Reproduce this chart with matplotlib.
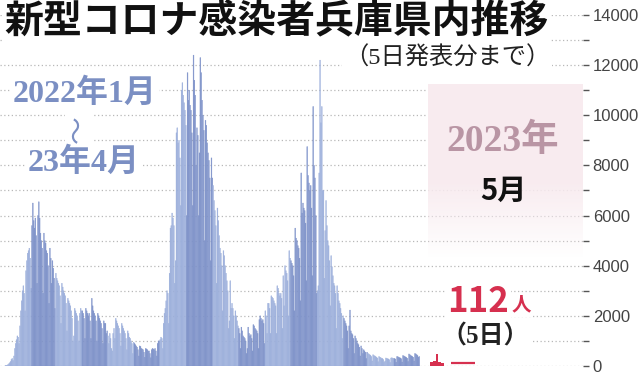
import matplotlib
matplotlib.use('Agg')
import matplotlib.pyplot as plt
import numpy as np
from matplotlib.ticker import MultipleLocator

plt.rcParams['font.family'] = ['Noto Sans CJK JP', 'DejaVu Sans']

# Daily new cases in Hyogo (Jan 2022 - Apr 2023)
jan22 = [20, 25, 30, 60, 90, 130, 180, 260, 300, 220, 400, 700, 900, 1050, 1200, 1150,
         900, 1600, 2200, 2600, 3000, 3200, 2900, 2200, 3800, 4200, 4500, 4600, 4700, 4300, 3100]
feb22 = [5600, 6500, 5800, 5500, 5900, 5200, 3300, 6000, 6550, 5900, 5300, 5000, 4700, 2900,
         5300, 5000, 4900, 4600, 4500, 4000, 2500, 4700, 4300, 3300, 4200, 3900, 3500, 2300]
mar22 = [3700, 3500, 3400, 3300, 3200, 2800, 1700, 3300, 3150, 3000, 2900, 2800, 2500, 1400,
         2700, 2600, 2500, 2400, 2200, 1900, 1000, 1200, 2300, 2200, 2100, 2000, 1800, 1000,
         2100, 2300, 2200]
apr22 = [2200, 2100, 1900, 1100, 2300, 2200, 2100, 2000, 2100, 1800, 1100, 2700, 2400, 2200,
         2100, 2000, 1800, 1000, 2100, 2000, 1900, 1800, 1700, 1500, 900, 1800, 1700, 1700,
         1300, 1400]
may22 = [1200, 900, 1300, 1100, 700, 600, 1300, 1500, 1100, 1900, 1800, 1700, 1600, 1500,
         1300, 800, 1700, 1600, 1500, 1400, 1300, 1100, 650, 1400, 1300, 1150, 1100, 1000,
         900, 500, 950]
jun22 = [900, 850, 800, 750, 650, 400, 800, 780, 700, 680, 650, 550, 350, 700, 680, 650,
         600, 600, 500, 330, 650, 700, 680, 650, 700, 600, 400, 900, 1000, 1000]
jul22 = [1050, 1150, 1100, 700, 1700, 2100, 2300, 2600, 3000, 2900, 1700, 3700, 5500, 5600,
         6100, 5900, 5600, 3300, 4200, 9300, 9500, 8900, 9000, 8300, 6400, 11000, 11300,
         10800, 10500, 10200, 9600]
aug22 = [6000, 11700, 10600, 11000, 10400, 10200, 9300, 6400, 12400, 11400, 10800, 8000,
         9500, 9200, 6000, 8500, 12300, 11700, 10600, 10000, 9400, 5000, 9800, 9600, 8900,
         8500, 8200, 7500, 4200, 8300, 7500]
sep22 = [7200, 6600, 6200, 5600, 3300, 6300, 5800, 5200, 4700, 4500, 4000, 2200, 4600, 4400,
         4000, 3700, 3400, 3000, 1500, 1800, 3400, 2300, 2500, 2300, 2000, 1100, 2200, 2000,
         1800, 1600]
oct22 = [1500, 1300, 700, 1550, 1400, 1200, 1150, 1100, 1000, 500, 700, 1550, 1300, 1200,
         1250, 1100, 600, 1650, 1600, 1500, 1450, 1400, 1300, 700, 1850, 2000, 1900, 1800,
         1850, 1700, 900]
nov22 = [2200, 2000, 1300, 2500, 2500, 2300, 1300, 2800, 2750, 2700, 2600, 2500, 2400, 1300,
         3200, 3100, 2900, 2800, 2900, 2700, 1500, 3600, 2400, 4000, 3800, 3700, 3400, 2000,
         4600, 4300]
dec22 = [4200, 4100, 4000, 3600, 2200, 5500, 5100, 5000, 4800, 4700, 4300, 2600, 7700, 6100,
         6500, 6300, 6200, 5700, 3400, 8750, 7600, 7300, 7000, 7200, 6300, 3600, 10350, 8000,
         7500, 6000, 2900]
jan23 = [3000, 3200, 7700, 12200, 9700, 10350, 7000, 7000, 3500, 5400, 6600, 5600, 5000,
         4800, 4200, 2400, 4400, 3960, 3600, 3300, 3200, 2900, 1500, 3200, 2900, 2600, 2500,
         2300, 2100, 1100, 2000]
feb23 = [1900, 1800, 1700, 1600, 1400, 700, 1600, 2230, 1400, 1300, 1250, 1100, 500, 1200,
         1100, 1000, 900, 850, 750, 400, 800, 700, 500, 650, 600, 550, 300, 550]
mar23 = [500, 480, 450, 430, 380, 200, 450, 420, 400, 380, 350, 320, 170, 380, 350, 330, 300,
         300, 260, 150, 200, 320, 300, 290, 280, 250, 140, 320, 330, 310, 300]
apr23 = [300, 280, 150, 380, 370, 350, 330, 320, 290, 160, 420, 400, 380, 360, 340, 310, 180,
         480, 450, 420, 400, 380, 350, 200, 500, 480, 450, 420, 350, 380]

# May 2023 (1st - 5th)
may23 = [170, 180, 480, 170, 112]

months = [jan22, feb22, mar22, apr22, may22, jun22, jul22, aug22, sep22, oct22, nov22, dec22,
          jan23, feb23, mar23, apr23]
yticks = [0, 2000, 4000, 6000, 8000, 10000, 12000, 14000]

LIGHT = '#9db0dc'
DARK = '#7f93ca'
RED = '#d6304f'
BLUE_TXT = '#7b8fc3'
SERIF = ['Liberation Serif', 'Noto Sans CJK JP']

W, H = 640, 374
fig = plt.figure(figsize=(6.4, 3.74), dpi=100)
fig.patch.set_facecolor('white')


def fx(x):
    return x / W


def fy(y):
    return 1 - y / H


# main axes: pixel 0..583 horizontally, 0 at y=366 and 14000 at y=15
ax_l, ax_r, ax_t, ax_b = 0, 583, 15, 366
ax = fig.add_axes([fx(ax_l), fy(ax_b), (ax_r - ax_l) / W, (ax_b - ax_t) / H])
ppd = 0.855      # pixels per day
x_first = 5      # pixel of first bar
ax.set_xlim((ax_l - x_first) / ppd, (ax_r - x_first) / ppd)
ax.set_ylim(0, 14000)

day = 0
for i, m in enumerate(months):
    c = LIGHT if i % 2 == 0 else DARK
    bars = ax.bar(np.arange(day, day + len(m)), m, width=1.0, align='edge',
                  color=c, edgecolor=c, linewidth=0.25, zorder=2)
    for b in bars:
        b.set_snap(False)
    day += len(m)

# May bars are drawn wider, off to the right
may_x0 = (430 - x_first) / ppd
may_w = 2.8 / ppd
ax.bar(may_x0 + np.arange(len(may23)) * may_w, may23, width=may_w, align='edge',
       color=RED, linewidth=0, zorder=2)
ax.plot([(451 - x_first) / ppd, (475 - x_first) / ppd], [may23[-1], may23[-1]],
        color=RED, lw=1.6, solid_capstyle='butt', zorder=3)

for s in ax.spines.values():
    s.set_visible(False)
ax.set_xticks([])
ax.yaxis.set_major_locator(MultipleLocator(2000))
ax.yaxis.set_minor_locator(MultipleLocator(1000))
ax.set_yticks(yticks)
ax.set_yticklabels([str(v) for v in yticks], fontsize=12, color='#444444',
                   family=['Liberation Sans', 'DejaVu Sans'])
ax.yaxis.tick_right()
ax.tick_params(axis='y', which='both', length=4, width=1.0, color='#555555', pad=3)
ax.set_axisbelow(True)
ax.grid(axis='y', which='both', color='#b8b8b8', linestyle=(0, (1, 2)), linewidth=0.9)

# pink panel for May, fading out towards the bottom
bx = fig.add_axes([fx(428), fy(258), (583 - 428) / W, (258 - 84) / H])
n = 200
grad = np.zeros((n, 1, 4))
grad[:, 0, 0] = 0.975
grad[:, 0, 1] = 0.925
grad[:, 0, 2] = 0.938
alpha = np.ones(n)
alpha[int(n * 0.55):] = np.linspace(1, 0, n - int(n * 0.55))
grad[:, 0, 3] = alpha
bx.imshow(grad, aspect='auto', extent=[0, 1, 0, 1], interpolation='bilinear')
bx.axis('off')

white = dict(facecolor='white', edgecolor='none', pad=1.5)

fig.text(fx(4), fy(22), '新型コロナ感染者兵庫県内推移', ha='left', va='center',
         fontsize=28, weight='bold', color='#111111', bbox=white)
fig.text(fx(550), fy(58), '（5日発表分まで）', ha='right', va='center',
         fontsize=17.5, family=SERIF, color='#222222', bbox=white)

fig.text(fx(85), fy(94), '2022年1月', ha='center', va='center', fontsize=23,
         weight='bold', family=SERIF, color=BLUE_TXT, bbox=white)
fig.text(fx(79), fy(129), '〜', ha='center', va='center', fontsize=20,
         rotation=90, family=SERIF, color=BLUE_TXT, bbox=white)
fig.text(fx(84), fy(163), '23年4月', ha='center', va='center', fontsize=23,
         weight='bold', family=SERIF, color=BLUE_TXT, bbox=white)

fig.text(fx(503), fy(141), '2023年', ha='center', va='center', fontsize=27,
         weight='bold', family=SERIF, color='#b995a4')
fig.text(fx(503), fy(191), '5月', ha='center', va='center', fontsize=21,
         weight='bold', color='#111111')

fig.text(fx(478), fy(301), '112', ha='center', va='center', fontsize=25,
         weight='bold', color=RED, bbox=white)
fig.text(fx(521), fy(305), '人', ha='center', va='center', fontsize=14,
         weight='bold', color=RED, bbox=white)
fig.text(fx(485), fy(336), '（5日）', ha='center', va='center', fontsize=18,
         weight='bold', family=SERIF, color='#222222', bbox=white)

fig.savefig('out.png', dpi=100, facecolor='white')
